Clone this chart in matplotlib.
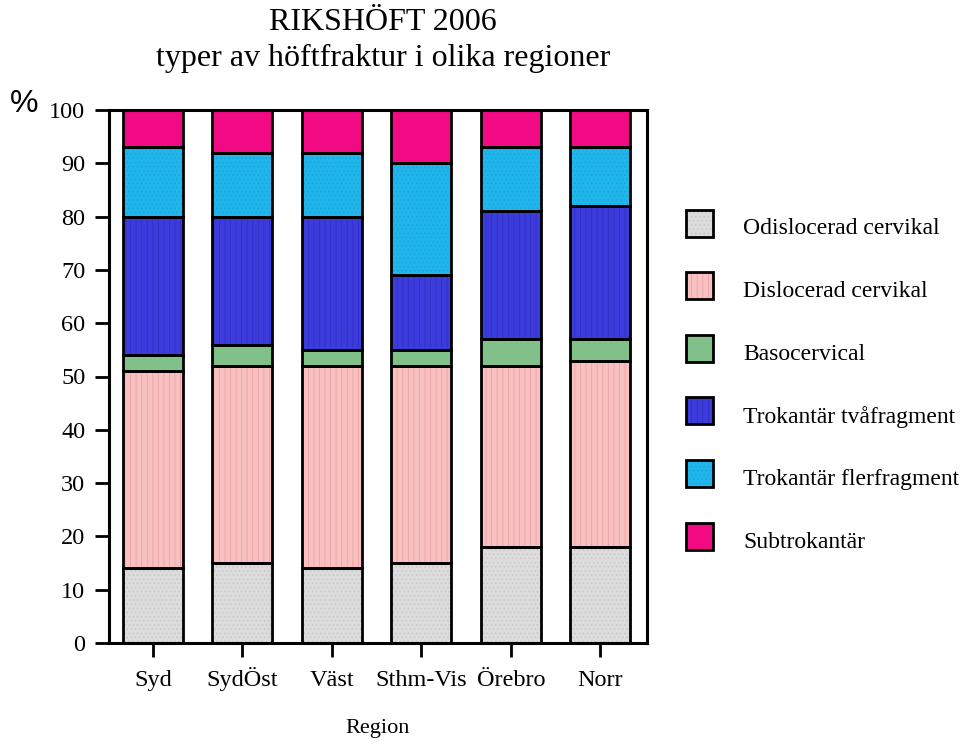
import matplotlib.pyplot as plt
from matplotlib.patches import Rectangle
import numpy as np

plt.rcParams['font.family'] = ['Liberation Serif', 'DejaVu Serif']
plt.rcParams['hatch.linewidth'] = 0.6

regions = ['Syd', 'SydÖst', 'Väst', 'Sthm-Vis', 'Örebro', 'Norr']
types = ['Odislocerad cervikal', 'Dislocerad cervikal', 'Basocervical',
         'Trokantär tvåfragment', 'Trokantär flerfragment', 'Subtrokantär']

# andel (%) per region, en lista per frakturtyp
odislocerad = [14, 15, 14, 15, 18, 18]
dislocerad = [37, 37, 38, 37, 34, 35]
basocervikal = [3, 4, 3, 3, 5, 4]
tvafragment = [26, 24, 25, 14, 24, 25]
flerfragment = [13, 12, 12, 21, 12, 11]
subtrokantar = [7, 8, 8, 10, 7, 7]

series = [odislocerad, dislocerad, basocervikal, tvafragment, flerfragment, subtrokantar]
colors = ['#dcdcdc', '#f8c0c0', '#82c08a', '#3c3cdc', '#20b6ec', '#f20a84']
hatchcol = ['#c6c6c6', '#eaa4a4', '#78b680', '#3030c4', '#1aa8dc', '#f20a84']
hatches = ['....', '|||', '', '|||', '....', '']

W, H = 968, 744
fig = plt.figure(figsize=(W / 100, H / 100), dpi=100)
ax = fig.add_axes([109 / W, (H - 643) / H, (647 - 109) / W, (643 - 110) / H])

x = np.arange(len(regions))
bw = 0.67
bottom = np.zeros(len(regions))
for vals, fc, hc, h in zip(series, colors, hatchcol, hatches):
    vals = np.array(vals, dtype=float)
    ax.bar(x, vals, bottom=bottom, width=bw, color=fc, edgecolor=hc,
           hatch=h, linewidth=0, zorder=2)
    ax.bar(x, vals, bottom=bottom, width=bw, fill=False, edgecolor='black',
           linewidth=2, zorder=3)
    bottom += vals

ax.set_xlim(-0.49, 5.52)
ax.set_ylim(0, 100)
ax.set_yticks(range(0, 101, 10))
ax.set_xticks(x)
ax.set_xticklabels(regions, va='baseline')
for s in ax.spines.values():
    s.set_linewidth(2.2)
ax.tick_params(axis='both', direction='out', length=10, width=2, labelsize=17.5)
ax.tick_params(axis='y', pad=7)
ax.tick_params(axis='x', pad=21)

fig.text(378 / W, 1 - 729 / H, 'Region', ha='center', va='center', fontsize=16)

fig.text(383 / W, 1 - 22 / H, 'RIKSHÖFT 2006', ha='center', va='center', fontsize=23)
fig.text(383 / W, 1 - 58 / H, 'typer av höftfraktur i olika regioner',
         ha='center', va='center', fontsize=23)
fig.text(24 / W, 1 - 104 / H, '%', ha='center', va='center', fontsize=23,
         family=['Liberation Sans', 'DejaVu Sans'])

# legend, drawn by hand
sq = 27
for i, (name, fc, hc, h) in enumerate(zip(types, colors, hatchcol, hatches)):
    cy = 223 + i * 62.6
    r = Rectangle((686 / W, 1 - (cy + sq / 2) / H), sq / W, sq / H,
                  transform=fig.transFigure, facecolor=fc, edgecolor=hc,
                  hatch=h, linewidth=0)
    fig.add_artist(r)
    fig.add_artist(Rectangle((686 / W, 1 - (cy + sq / 2) / H), sq / W, sq / H,
                             transform=fig.transFigure, fill=False,
                             edgecolor='black', linewidth=2))
    fig.text(743 / W, 1 - (cy + 6) / H, name, ha='left', va='center', fontsize=17)

fig.savefig('out.png', dpi=100)
